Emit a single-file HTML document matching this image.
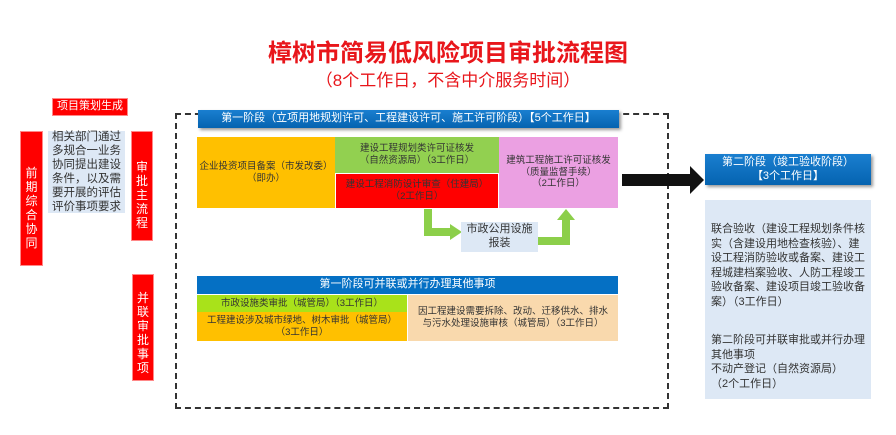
<!DOCTYPE html>
<html><head><meta charset="utf-8"><style>
body{margin:0;width:896px;height:435px;background:#fff;position:relative;overflow:hidden;font-family:"Liberation Sans","Noto Sans CJK SC",sans-serif}
.a{position:absolute;box-sizing:border-box;display:flex;align-items:center;justify-content:center;text-align:center;line-height:1.25}
.red{background:#ff0000;color:#fff;border:1px solid #f88}
.v{font-size:12px;line-height:14px;align-items:flex-start}
.blue{background:linear-gradient(#1a7fd0,#0563b0);color:#fff;box-shadow:2px 2px 3px #999}
.n{white-space:nowrap}
</style></head><body>
<div class="a" style="left:0;width:896px;top:39px;height:30px;color:#e8161b;font-size:24px;font-weight:bold">樟树市简易低风险项目审批流程图</div>
<div class="a" style="left:0;top:69px;width:896px;height:24px;color:#e8161b;font-size:17px">（8个工作日，不含中介服务时间）</div>

<div class="a red" style="left:52px;top:98px;width:76px;height:18px;font-size:11px">项目策划生成</div>
<div class="a red v" style="left:20px;top:131px;width:23px;height:135px;padding-top:34px">前<br>期<br>综<br>合<br>协<br>同</div>
<div class="a" style="left:48px;top:131px;width:77px;height:82px;background:#dde8f5;color:#333;font-size:11.5px;line-height:14px">相关部门通过多规合一业务协同提出建设条件，以及需要开展的评估评价事项要求</div>
<div class="a red v" style="left:131px;top:131px;width:22px;height:110px;padding-top:28px">审<br>批<br>主<br>流<br>程</div>
<div class="a red v" style="left:132px;top:274px;width:22px;height:107px;padding-top:16px">并<br>联<br>审<br>批<br>事<br>项</div>

<div style="position:absolute;left:175px;top:113px;width:494px;height:296px;border:2px dashed #333;box-sizing:border-box"></div>

<div class="a blue n" style="left:198px;top:110px;width:421px;height:18px;font-size:11px">第一阶段（立项用地规划许可、工程建设许可、施工许可阶段）【5个工作日】</div>
<div class="a n" style="left:197px;top:137px;width:138px;height:71px;background:#ffc000;color:#333;font-size:9.5px">企业投资项目备案（市发改委）<br>（即办）</div>
<div class="a n" style="left:335px;top:137px;width:164px;height:36px;background:#92d050;color:#333;font-size:9.5px">建设工程规划类许可证核发<br>（自然资源局）（3工作日）</div>
<div class="a n" style="left:336px;top:174px;width:162px;height:34px;background:#ff0000;color:#333;font-size:9.5px">建设工程消防设计审查（住建局）<br>（2工作日）</div>
<div class="a n" style="left:499px;top:137px;width:119px;height:71px;background:#eba0e2;color:#333;font-size:9.5px">建筑工程施工许可证核发<br>（质量监督手续）<br>（2工作日）</div>

<svg style="position:absolute;left:0;top:0" width="896" height="435">
<path d="M428 209 V232 H452" fill="none" stroke="#8ccf4a" stroke-width="8"/>
<polygon points="450,224 462,232 450,240" fill="#8ccf4a"/>
<path d="M538 241 H566 V218" fill="none" stroke="#8ccf4a" stroke-width="8"/>
<polygon points="557,220 566,209 575,220" fill="#8ccf4a"/>
<rect x="622" y="174" width="70" height="12" fill="#111"/>
<polygon points="690,166 704,180 690,194" fill="#111"/>
</svg>
<div class="a" style="left:461px;top:222px;width:77px;height:30px;background:#dde8f5;color:#333;font-size:11px">市政公用设施<br>报装</div>

<div class="a" style="left:197px;top:276px;width:421px;height:18px;background:#0570c4;color:#fff;font-size:11px">第一阶段可并联或并行办理其他事项</div>
<div class="a n" style="left:197px;top:295px;width:210px;height:17px;background:#a9e21a;color:#333;font-size:9.5px">市政设施类审批（城管局）（3工作日）</div>
<div class="a n" style="left:197px;top:312px;width:210px;height:29px;background:#ffc000;color:#333;font-size:9.5px">工程建设涉及城市绿地、树木审批（城管局）<br>（3工作日）</div>
<div class="a n" style="left:408px;top:295px;width:210px;height:46px;background:#f9d9ad;color:#333;font-size:9.5px">因工程建设需要拆除、改动、迁移供水、排水<br>与污水处理设施审核（城管局）（3工作日）</div>

<div class="a blue" style="left:705px;top:154px;width:166px;height:31px;font-size:11px">第二阶段（竣工验收阶段）<br>【3个工作日】</div>
<div class="a" style="left:705px;top:200px;width:166px;height:199px;background:#dde8f5;color:#333;font-size:11px;line-height:14.5px;text-align:left;justify-content:flex-start;align-items:flex-start;padding:22px 3px 0 6px;flex-direction:column">
<div>联合验收（建设工程规划条件核实（含建设用地检查核验）、建设工程消防验收或备案、建设工程城建档案验收、人防工程竣工验收备案、建设项目竣工验收备案）（3工作日）</div>
<div style="margin-top:24px">第二阶段可并联审批或并行办理其他事项<br>不动产登记（自然资源局）<br>（2个工作日）</div>
</div>
</body></html>
